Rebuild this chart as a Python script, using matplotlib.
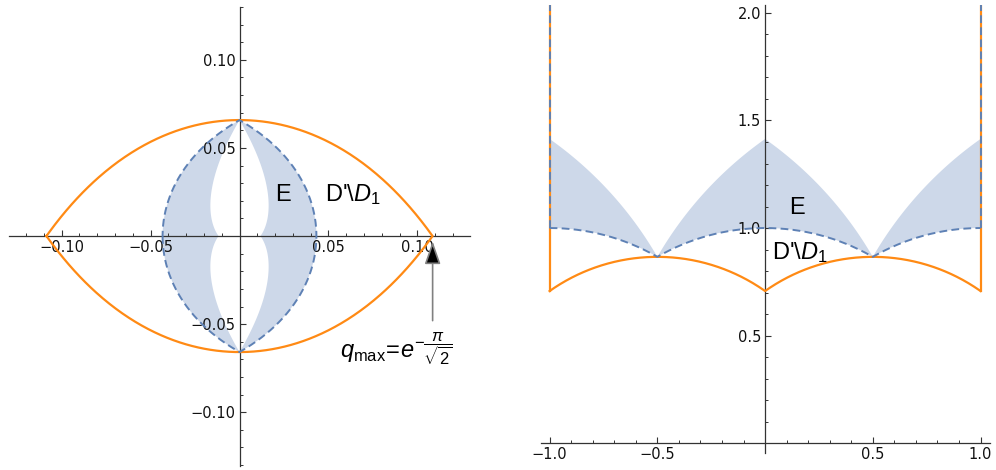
import numpy as np
import matplotlib.pyplot as plt
from matplotlib.ticker import MultipleLocator, FixedLocator, FuncFormatter

plt.rcParams['mathtext.fontset'] = 'custom'
plt.rcParams['mathtext.rm'] = 'Liberation Sans'
plt.rcParams['mathtext.it'] = 'Liberation Sans:italic'

ORANGE = '#ff8a14'
BLUE = '#5e81b5'
FILL = '#cdd8e9'
AXC = '#333333'

# arcs |tau - c| = r in the tau plane (one centre per x-range)
# boundary of D' (orange)
d_centres = [-0.5, 0.5]
d_radius = 0.866
d_ranges = [(-1.0, 0.0), (0.0, 1.0)]
# lower boundary of E (dashed)
low_centres = [-1.0, 0.0, 1.0]
low_radius = 1.0
low_ranges = [(-1.0, -0.5), (-0.5, 0.5), (0.5, 1.0)]
# upper boundary of E
up_centres = [-2.0, 1.0, -1.0, 2.0]
up_radius = 1.732
up_ranges = [(-1.0, -0.5), (-0.5, 0.0), (0.0, 0.5), (0.5, 1.0)]

wall_x = [-1.0, 1.0]
q_max = 0.1085

left_xticks = [-0.10, -0.05, 0.05, 0.10]
left_yticks = [-0.10, -0.05, 0.05, 0.10]
right_xticks = [-1.0, -0.5, 0.5, 1.0]
right_yticks = [0.5, 1.0, 1.5, 2.0]


def arcs(centres, r, ranges, n=300):
    xs, ys = [], []
    for c, (a, b) in zip(centres, ranges):
        x = np.linspace(a, b, n)
        xs.append(x)
        ys.append(np.sqrt(np.clip(r ** 2 - (x - c) ** 2, 0, None)))
    return np.concatenate(xs), np.concatenate(ys)


def to_q(x, y):
    q = np.exp(1j * np.pi * (x + 1j * y))
    return q.real, q.imag


def style_axes(ax, xt, yt, minor, fmt):
    for s in ['top', 'right']:
        ax.spines[s].set_visible(False)
    for s in ['left', 'bottom']:
        ax.spines[s].set_position('zero')
        ax.spines[s].set_color(AXC)
        ax.spines[s].set_linewidth(0.9)
    ax.xaxis.set_major_locator(FixedLocator(xt))
    ax.yaxis.set_major_locator(FixedLocator(yt))
    ax.xaxis.set_minor_locator(MultipleLocator(minor))
    ax.yaxis.set_minor_locator(MultipleLocator(minor))
    f = FuncFormatter(lambda v, p: (fmt % v).replace('-', '\u2212'))
    ax.xaxis.set_major_formatter(f)
    ax.yaxis.set_major_formatter(f)
    ax.tick_params(which='major', direction='in', length=4.5, width=0.8,
                   color=AXC, labelsize=10.5, pad=3, labelcolor='#111111')
    ax.tick_params(which='minor', direction='in', length=2.5, width=0.7,
                   color=AXC)


dx, dy = arcs(d_centres, d_radius, d_ranges)
lx, ly = arcs(low_centres, low_radius, low_ranges)
ux, uy = arcs(up_centres, up_radius, up_ranges)

fig = plt.figure(figsize=(9.96, 4.70), dpi=100)

# ---- left: q-plane ----
ax = fig.add_axes([9 / 996, 4 / 470, 461 / 996, 459 / 470])
ax.set_xlim(-0.1295, 0.1295)
ax.set_ylim(-0.1305, 0.130)

px, py = to_q(np.concatenate([ux, lx[::-1]]), np.concatenate([uy, ly[::-1]]))
ax.fill(px, py, color=FILL, lw=0, zorder=1)
qx, qy = to_q(dx, dy)
ax.plot(qx, qy, color=ORANGE, lw=1.6, zorder=3)
qx, qy = to_q(lx, ly)
ax.plot(qx, qy, color=BLUE, lw=1.4, dashes=(4, 2.2), zorder=4)

ax.annotate('', xy=(q_max, -0.003), xytext=(q_max, -0.048),
            arrowprops=dict(arrowstyle='-|>,head_length=1.0,head_width=0.35',
                            ec='#808080', fc='black', lw=1.2,
                            mutation_scale=14, shrinkA=0, shrinkB=0),
            zorder=5)
ax.text(0.0562, -0.0693, r'$q_{\mathrm{max}}\!=\!e^{-\dfrac{\pi}{\sqrt{2}}}$',
        fontsize=17, ha='left', va='baseline', family='Liberation Sans')
ax.text(0.0247, 0.0233, 'E', fontsize=17, ha='center', va='center',
        family='Liberation Sans')
ax.text(0.0483, 0.0233, r"D'$\backslash$$D_1$", fontsize=17, ha='left',
        va='center', family='Liberation Sans')
style_axes(ax, left_xticks, left_yticks, 0.01, '%.2f')

# ---- right: tau-plane ----
ax2 = fig.add_axes([541 / 996, 17 / 470, 449 / 996, 448 / 470])
ax2.set_xlim(-1.04, 1.044)
ax2.set_ylim(-0.046, 2.037)
top = 2.2

ax2.fill(np.concatenate([ux, lx[::-1]]), np.concatenate([uy, ly[::-1]]),
         color=FILL, lw=0, zorder=1)
ax2.plot(dx, dy, color=ORANGE, lw=1.6, zorder=3)
ax2.plot(lx, ly, color=BLUE, lw=1.4, dashes=(4, 2.2), zorder=4)
for xw in wall_x:
    yo = dy[np.argmin(np.abs(dx - xw))]
    yb = ly[np.argmin(np.abs(lx - xw))]
    ax2.plot([xw, xw], [yo, top], color=ORANGE, lw=1.6, zorder=3)
    ax2.plot([xw, xw], [yb, top], color=BLUE, lw=1.4, dashes=(4, 2.2),
             zorder=4)
ax2.text(0.148, 1.093, 'E', fontsize=17, ha='center', va='center',
         family='Liberation Sans')
ax2.text(0.033, 0.888, r"D'$\backslash$$D_1$", fontsize=17, ha='left',
         va='center', family='Liberation Sans')
style_axes(ax2, right_xticks, right_yticks, 0.1, '%.1f')

fig.savefig('out.png', dpi=100)
